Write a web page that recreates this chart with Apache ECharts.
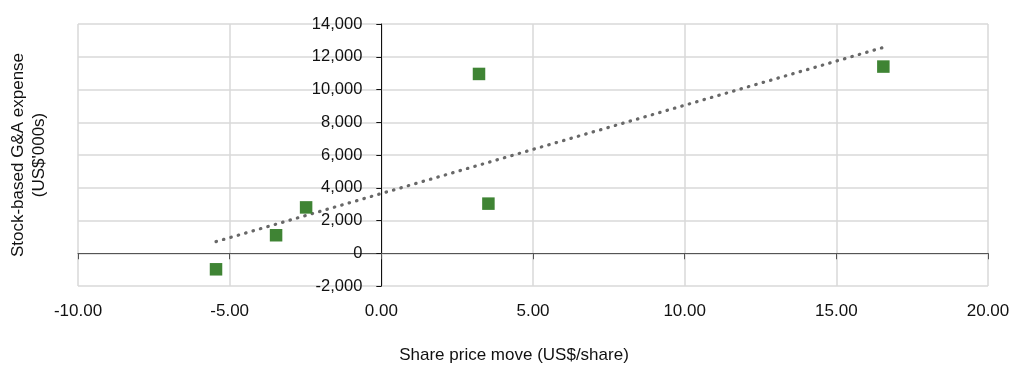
<!DOCTYPE html>
<html>
<head>
<meta charset="utf-8">
<script src="https://cdn.jsdelivr.net/npm/echarts@6/dist/echarts.min.js"></script>
<style>
  html, body { margin: 0; padding: 0; background: #fff; }
  #chart { width: 1011px; height: 365px; }
</style>
</head>
<body>
<div id="chart"></div>
<script>
// Share price move vs stock-based G&A expense, one point per period
const sharePriceMove = [-5.45, -3.47, -2.48, 3.22, 3.53, 16.55];
const stockBasedGA = [-980, 1100, 2800, 10950, 3030, 11400];

const xTicks = { min: -10, max: 20, interval: 5 };
const yTicks = { min: -2000, max: 14000, interval: 2000 };

const xTitle = 'Share price move (US$/share)';
const yTitle = 'Stock-based G&A expense\n(US$\'000s)';

// Least-squares linear trend across the points
function linearTrend(xs, ys) {
  const n = xs.length;
  const mx = xs.reduce((a, b) => a + b, 0) / n;
  const my = ys.reduce((a, b) => a + b, 0) / n;
  let sxy = 0, sxx = 0;
  for (let i = 0; i < n; i++) {
    sxy += (xs[i] - mx) * (ys[i] - my);
    sxx += (xs[i] - mx) * (xs[i] - mx);
  }
  const slope = sxy / sxx;
  const intercept = my - slope * mx;
  const x0 = Math.min(...xs), x1 = Math.max(...xs);
  return [[x0, intercept + slope * x0], [x1, intercept + slope * x1]];
}

const points = sharePriceMove.map((x, i) => [x, stockBasedGA[i]]);
const trend = linearTrend(sharePriceMove, stockBasedGA);

const font = "'Liberation Sans', Arial, sans-serif";
const gridColor = '#d9d9d9';

const W = 1011;
const gridBox = { left: 78, right: 23, top: 24, bottom: 79 };
// The value-axis labels sit beside the vertical axis line at x = 0
const plotWidth = W - gridBox.left - gridBox.right;
const zeroShift = (0 - xTicks.min) / (xTicks.max - xTicks.min) * plotWidth;

const chart = echarts.init(document.getElementById('chart'), null, { renderer: 'canvas' });
chart.setOption({
  animation: false,
  textStyle: { fontFamily: font },
  grid: Object.assign({ containLabel: false, outerBoundsMode: 'none' }, gridBox),
  xAxis: [
    {
      type: 'value', min: xTicks.min, max: xTicks.max, interval: xTicks.interval,
      position: 'bottom',
      axisLine: { show: false, onZero: false },
      axisTick: { show: false },
      axisLabel: {
        fontSize: 17, color: '#111', margin: 17, fontFamily: font,
        formatter: v => v.toFixed(2)
      },
      splitLine: { show: true, lineStyle: { color: gridColor, width: 1.5 } },
      name: xTitle, nameLocation: 'middle', nameGap: 61,
      nameTextStyle: { fontSize: 17, color: '#111', fontFamily: font, padding: [0, 38, 0, 0] }
    },
    {
      type: 'value', min: xTicks.min, max: xTicks.max, interval: xTicks.interval,
      position: 'bottom',
      axisLine: { show: true, onZero: true, onZeroAxisIndex: 0, lineStyle: { color: '#555', width: 1 } },
      axisTick: { show: true, length: 6, lineStyle: { color: '#555', width: 1 } },
      axisLabel: { show: false },
      splitLine: { show: false }
    }
  ],
  yAxis: [
    {
      type: 'value', min: yTicks.min, max: yTicks.max, interval: yTicks.interval,
      position: 'left',
      axisLine: { show: true, onZero: true, onZeroAxisIndex: 0, lineStyle: { color: '#111', width: 1 } },
      axisTick: { show: true, length: 5, lineStyle: { color: '#111', width: 1 } },
      axisLabel: { show: false },
      splitLine: { show: true, lineStyle: { color: gridColor, width: 1.5 } }
    },
    {
      type: 'value', min: yTicks.min, max: yTicks.max, interval: yTicks.interval,
      position: 'left',
      offset: -zeroShift,
      axisLine: { show: false, onZero: false },
      axisTick: { show: false },
      axisLabel: {
        fontSize: 16.5, color: '#111', margin: 19, fontFamily: font,
        formatter: v => v.toLocaleString('en-US')
      },
      splitLine: { show: false }
    },
    {
      type: 'value', min: yTicks.min, max: yTicks.max, interval: yTicks.interval,
      position: 'left',
      axisLine: { show: false, onZero: false },
      axisTick: { show: false },
      axisLabel: { show: false },
      splitLine: { show: false },
      name: yTitle, nameLocation: 'middle', nameRotate: 90, nameGap: 28,
      nameTextStyle: { fontSize: 17, lineHeight: 21, color: '#111', fontFamily: font, align: 'center' }
    }
  ],
  series: [
    {
      name: 'Trend',
      type: 'line',
      xAxisIndex: 0, yAxisIndex: 0,
      data: trend,
      showSymbol: false,
      symbol: 'none',
      z: 2,
      lineStyle: { color: '#686868', width: 3.2, type: [0.5, 7.2], cap: 'round' }
    },
    {
      name: 'Stock-based G&A',
      type: 'scatter',
      xAxisIndex: 0, yAxisIndex: 0,
      data: points,
      symbol: 'rect',
      symbolSize: 12.5,
      z: 3,
      itemStyle: { color: '#3f8434', opacity: 1 }
    }
  ]
});
</script>
</body>
</html>
